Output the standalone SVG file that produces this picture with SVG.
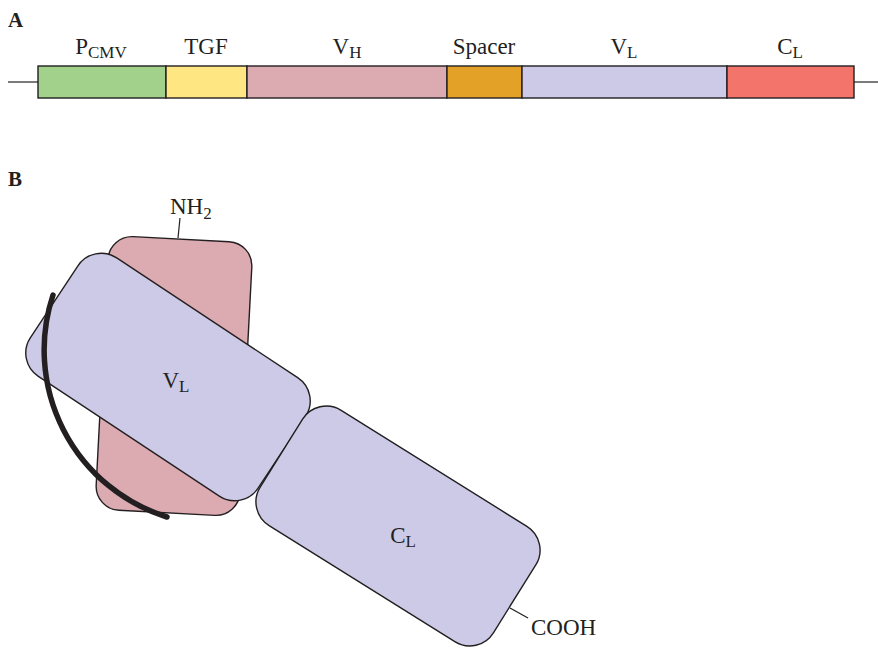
<svg xmlns="http://www.w3.org/2000/svg" width="878" height="653" viewBox="0 0 878 653">
<style>
.t{font-family:"Liberation Serif","DejaVu Serif",serif;font-size:23px;fill:#231f20}
.s{font-size:17px}
.h{font-family:"Liberation Serif","DejaVu Serif",serif;font-size:21px;font-weight:bold;fill:#231f20}
.box{stroke:#231f20;stroke-width:1.4}
.ln{stroke:#231f20;stroke-width:1.2;fill:none}
</style>
<rect width="878" height="653" fill="#ffffff"/>
<text class="h" x="8" y="27">A</text>
<text class="h" x="8" y="186">B</text>
<g id="connectors">
<line class="ln" x1="8" y1="82" x2="38" y2="82"/>
<line class="ln" x1="854" y1="82" x2="878" y2="82"/>
<line class="ln" x1="180" y1="218" x2="178" y2="238"/>
<line class="ln" x1="510" y1="608" x2="528" y2="618"/>
</g>
<g id="bar">
<g id="pcmv"><rect class="box" x="38" y="66" width="128" height="32" fill="#a1d18a"/>
<text class="t" x="101" y="54" text-anchor="middle">P<tspan class="s" dy="4">CMV</tspan></text></g>
<g id="tgf"><rect class="box" x="166" y="66" width="81" height="32" fill="#fee783"/>
<text class="t" x="206" y="54" text-anchor="middle">TGF</text></g>
<g id="vh"><rect class="box" x="247" y="66" width="200" height="32" fill="#dcaab1"/>
<text class="t" x="347" y="54" text-anchor="middle">V<tspan class="s" dy="4">H</tspan></text></g>
<g id="spacer"><rect class="box" x="447" y="66" width="75" height="32" fill="#e4a127"/>
<text class="t" x="484" y="54" text-anchor="middle">Spacer</text></g>
<g id="vl"><rect class="box" x="522" y="66" width="205" height="32" fill="#cccae6"/>
<text class="t" x="624" y="54" text-anchor="middle">V<tspan class="s" dy="4">L</tspan></text></g>
<g id="cl"><rect class="box" x="727" y="66" width="127" height="32" fill="#f2746b"/>
<text class="t" x="790" y="54" text-anchor="middle">C<tspan class="s" dy="4">L</tspan></text></g>
</g>
<g id="domain-vh">
<rect class="box" transform="translate(174,376) rotate(3)" x="-72" y="-137" width="144" height="274" rx="24" fill="#dcaab1"/>
<text class="t" x="170" y="214">NH<tspan class="s" dy="5">2</tspan></text>
</g>
<g id="domain-vl">
<rect class="box" transform="translate(168,377) rotate(33.5)" x="-136.5" y="-71" width="273" height="142" rx="28" fill="#cccae6"/>
<text class="t" x="176" y="388" text-anchor="middle">V<tspan class="s" dy="4">L</tspan></text>
</g>
<g id="arc">
<path d="M 53 295 A 175 175 0 0 0 167 517" fill="none" stroke="#231f20" stroke-width="5.5" stroke-linecap="round"/>
</g>
<g id="domain-cl">
<rect class="box" transform="translate(398,526) rotate(32)" x="-137.5" y="-68" width="275" height="136" rx="28" fill="#cccae6"/>
<text class="t" x="403" y="543" text-anchor="middle">C<tspan class="s" dy="4">L</tspan></text>
<text class="t" x="531" y="635">COOH</text>
</g>
</svg>
